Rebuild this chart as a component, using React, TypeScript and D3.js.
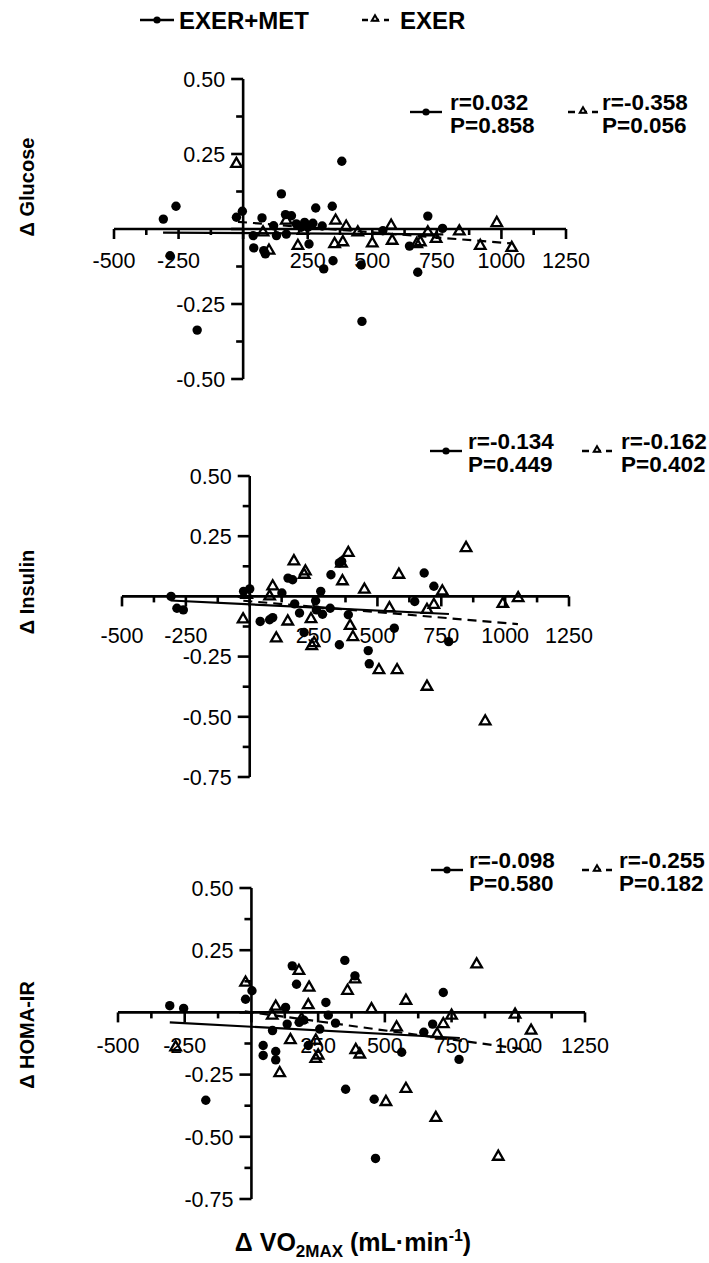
import React from 'react';
import * as d3 from 'd3';

// ---- data ----
const groupNames = ['EXER+MET', 'EXER'];

const glucoseMet: [number, number][] = [
  [-309, 0.033], [-260, 0.076], [-283, -0.089], [-178, -0.337], [-26, 0.039], [-3, 0.059],
  [39, -0.022], [41, -0.063], [73, 0.037], [80, -0.072], [86, -0.083], [118, 0.011],
  [129, -0.022], [148, 0.117], [164, 0.048], [187, 0.044], [167, -0.017], [206, 0.017],
  [225, 0.006], [238, 0.022], [251, 0.006], [255, -0.05], [270, 0.019], [281, 0.07],
  [306, 0.01], [312, -0.133], [345, 0.076], [348, -0.106], [382, 0.226], [457, -0.12],
  [460, -0.308], [541, -0.006], [644, -0.057], [676, -0.144], [715, 0.043], [772, 0.002],
];
const glucoseExer: [number, number][] = [
  [-26, 0.217], [77, -0.011], [100, -0.072], [167, 0.028], [212, -0.056], [232, -0.006],
  [358, 0.028], [354, -0.05], [386, -0.044], [399, 0.008], [444, -0.011], [500, -0.048],
  [573, 0.011], [577, -0.039], [672, -0.05], [686, -0.044], [715, -0.011], [747, -0.033],
  [837, -0.008], [918, -0.056], [982, 0.02], [1040, -0.063],
];
const glucoseFitMet: [number, number][] = [[-310, -0.012], [775, -0.018]];
const glucoseFitExer: [number, number][] = [[-20, 0.024], [1040, -0.048]];

const insulinMet: [number, number][] = [
  [-308, 0], [-285, -0.049], [-260, -0.056], [-24, 0.021], [0, 0.031], [41, -0.104],
  [78, -0.097], [90, -0.088], [126, 0.014], [150, 0.076], [168, 0.069], [176, -0.031],
  [195, -0.069], [213, -0.15], [258, -0.018], [261, -0.056], [278, 0.021], [285, -0.074],
  [315, -0.049], [318, 0.09], [351, -0.201], [351, 0.139], [360, 0.146], [386, -0.076],
  [464, -0.225], [468, -0.28], [566, -0.132], [646, -0.021], [683, 0.097], [721, 0.042],
  [779, -0.188],
];
const insulinExer: [number, number][] = [
  [-26, -0.095], [-12, 0.007], [78, 0], [90, 0.042], [104, -0.174], [149, -0.104],
  [173, 0.146], [213, 0.09], [218, 0.104], [240, -0.094], [243, -0.206], [252, -0.194],
  [359, 0.136], [363, 0.063], [386, 0.181], [393, -0.122], [404, -0.169], [449, 0.028],
  [506, -0.306], [547, -0.049], [577, -0.306], [584, 0.09], [694, -0.375], [694, -0.056],
  [721, -0.035], [754, 0.021], [847, 0.201], [922, -0.519], [991, -0.031], [1051, -0.007],
];
const insulinFitMet: [number, number][] = [[-310, -0.017], [780, -0.073]];
const insulinFitExer: [number, number][] = [[-25, -0.018], [1050, -0.115]];

const homaMet: [number, number][] = [
  [-306, 0.027], [-254, 0.016], [-171, -0.353], [-22, 0.053], [2, 0.087], [44, -0.133],
  [44, -0.173], [79, -0.073], [91, -0.157], [91, -0.191], [128, 0.02], [134, -0.047],
  [153, 0.187], [169, 0.113], [179, -0.04], [196, -0.031], [213, -0.133], [256, -0.067],
  [279, 0.04], [288, -0.011], [315, -0.043], [350, 0.209], [353, -0.309], [388, 0.147],
  [460, -0.349], [465, -0.587], [563, -0.16], [646, -0.08], [679, -0.047], [719, 0.08],
  [778, -0.189],
];
const homaExer: [number, number][] = [
  [-284, -0.14], [-22, 0.12], [78, -0.013], [91, 0.023], [106, -0.244], [146, -0.111],
  [178, 0.167], [188, -0.027], [213, 0.029], [216, 0.1], [241, -0.113], [241, -0.187],
  [250, -0.173], [360, 0.087], [388, 0.133], [391, -0.151], [406, -0.169], [450, 0.013],
  [504, -0.36], [544, -0.06], [579, 0.047], [579, -0.307], [691, -0.424], [696, -0.087],
  [719, -0.047], [750, -0.013], [844, 0.193], [925, -0.58], [988, -0.009], [1048, -0.073],
];
const homaFitMet: [number, number][] = [[-306, -0.04], [781, -0.103]];
const homaFitExer: [number, number][] = [[-25, 0.004], [1048, -0.152]];

const xTicks = [-500, -250, 0, 250, 500, 750, 1000, 1250];
const yTicksShort = [-0.5, -0.25, 0, 0.25, 0.5];
const yTicksLong = [-0.75, -0.5, -0.25, 0, 0.25, 0.5];

const panels = [
  { title: 'Δ Glucose', met: glucoseMet, exer: glucoseExer, fitMet: glucoseFitMet, fitExer: glucoseFitExer,
    statMet: ['r=0.032', 'P=0.858'], statExer: ['r=-0.358', 'P=0.056'], yTicks: yTicksShort },
  { title: 'Δ Insulin', met: insulinMet, exer: insulinExer, fitMet: insulinFitMet, fitExer: insulinFitExer,
    statMet: ['r=-0.134', 'P=0.449'], statExer: ['r=-0.162', 'P=0.402'], yTicks: yTicksLong },
  { title: 'Δ HOMA-IR', met: homaMet, exer: homaExer, fitMet: homaFitMet, fitExer: homaFitExer,
    statMet: ['r=-0.098', 'P=0.580'], statExer: ['r=-0.255', 'P=0.182'], yTicks: yTicksLong },
];

// ---- layout (pixels) ----
const frames = [
  { left: 114, right: 566, top: 79, bottom: 379, labelDy: 39, statY: 102, m1: 410, t1: 450, m2: 568, t2: 602, titleY: 187 },
  { left: 122, right: 569, top: 476, bottom: 777, labelDy: 47, statY: 441, m1: 430, t1: 468, m2: 582, t2: 621, titleY: 592 },
  { left: 118, right: 585, top: 888, bottom: 1199, labelDy: 41, statY: 860, m1: 431, t1: 469, m2: 582, t2: 619, titleY: 1035 },
];

const FONT = '"Liberation Sans", Arial, Helvetica, sans-serif';
const fmtY = (v: number) => (v < 0 ? '-' : '') + Math.abs(v).toFixed(2);

const tri = d3.symbol().type(d3.symbolTriangle).size(48);
const triSmall = d3.symbol().type(d3.symbolTriangle).size(18);

const Panel = ({ p, f }: { p: typeof panels[number]; f: typeof frames[number] }) => {
  const x = d3.scaleLinear().domain([-500, 1250]).range([f.left, f.right]);
  const yMin = d3.min(p.yTicks) as number;
  const y = d3.scaleLinear().domain([yMin, 0.5]).range([f.bottom, f.top]);
  const line = d3.line<[number, number]>().x(d => x(d[0])).y(d => y(d[1]));
  const x0 = x(0);
  const y0 = y(0);
  const minorX = d3.range(-500, 1250, 125).filter(v => v % 250 !== 0);
  const minorY = d3.range(yMin, 0.5, 0.125).filter(v => Math.abs((v / 0.25) % 1) > 0.01);
  return (
    <g>
      {/* y axis */}
      <line x1={x0} x2={x0} y1={y(0.5)} y2={y(yMin)} stroke="#000" strokeWidth={2.6} />
      {p.yTicks.map(t => (
        <line key={'yt' + t} x1={x0 - 12} x2={x0} y1={y(t)} y2={y(t)} stroke="#000" strokeWidth={2.6} />
      ))}
      {minorY.map(t => (
        <line key={'ym' + t} x1={x0 - 7} x2={x0} y1={y(t)} y2={y(t)} stroke="#000" strokeWidth={2.6} />
      ))}
      {p.yTicks.filter(t => t !== 0).map(t => (
        <text key={'yl' + t} x={x0 - 18} y={y(t)} dy="0.36em" textAnchor="end" fontFamily={FONT} fontSize={21.5}>
          {fmtY(t)}
        </text>
      ))}
      {/* x axis */}
      <line x1={x(-500)} x2={x(1250)} y1={y0} y2={y0} stroke="#000" strokeWidth={2.6} />
      {xTicks.map(t => (
        <line key={'xt' + t} x1={x(t)} x2={x(t)} y1={y0} y2={y0 + 10} stroke="#000" strokeWidth={2.6} />
      ))}
      {minorX.map(t => (
        <line key={'xm' + t} x1={x(t)} x2={x(t)} y1={y0} y2={y0 + 6} stroke="#000" strokeWidth={2.6} />
      ))}
      {xTicks.filter(t => t !== 0).map(t => (
        <text key={'xl' + t} x={x(t)} y={y0 + f.labelDy} textAnchor="middle" fontFamily={FONT} fontSize={21.5}>
          {String(t)}
        </text>
      ))}
      {/* fits */}
      <path d={line(p.fitMet) || ''} stroke="#000" strokeWidth={2.2} fill="none" />
      <path d={line(p.fitExer) || ''} stroke="#000" strokeWidth={2.2} fill="none" strokeDasharray="9,6" />
      {/* points */}
      {p.exer.map((d, i) => (
        <path key={'e' + i} d={tri() || ''} transform={`translate(${x(d[0])},${y(d[1])})`}
          fill="none" stroke="#000" strokeWidth={2.3} />
      ))}
      {p.met.map((d, i) => (
        <circle key={'m' + i} cx={x(d[0])} cy={y(d[1])} r={4.7} fill="#000" />
      ))}
      {/* stats */}
      <line x1={f.m1} x2={f.m1 + 32} y1={f.statY + 10} y2={f.statY + 10} stroke="#000" strokeWidth={2.4} />
      <circle cx={f.m1 + 16} cy={f.statY + 10} r={3.6} fill="#000" />
      <text x={f.t1} y={f.statY + 8} fontFamily={FONT} fontSize={22.5} fontWeight="bold">{p.statMet[0]}</text>
      <text x={f.t1} y={f.statY + 31} fontFamily={FONT} fontSize={22.5} fontWeight="bold">{p.statMet[1]}</text>
      <line x1={f.m2} x2={f.m2 + 30} y1={f.statY + 10} y2={f.statY + 10} stroke="#000" strokeWidth={2.4} strokeDasharray="7,5" />
      <path d={triSmall() || ''} transform={`translate(${f.m2 + 15},${f.statY + 9})`} fill="#fff" stroke="#000" strokeWidth={2} />
      <text x={f.t2} y={f.statY + 8} fontFamily={FONT} fontSize={22.5} fontWeight="bold">{p.statExer[0]}</text>
      <text x={f.t2} y={f.statY + 31} fontFamily={FONT} fontSize={22.5} fontWeight="bold">{p.statExer[1]}</text>
      {/* y title */}
      <text transform={`translate(27,${f.titleY}) rotate(-90)`} textAnchor="middle" dy="0.35em"
        fontFamily={FONT} fontSize={20} fontWeight="bold">{p.title}</text>
    </g>
  );
};

export default function App() {
  return (
    <svg width={709} height={1263} style={{ position: 'absolute', left: 0, top: 0, background: '#fff' }}>
      <rect width={709} height={1263} fill="#fff" />
      {/* legend */}
      <g>
        <line x1={140} x2={174} y1={20} y2={20} stroke="#000" strokeWidth={2.4} />
        <circle cx={157} cy={20} r={3.6} fill="#000" />
        <text x={179} y={29} fontFamily={FONT} fontSize={24} fontWeight="bold">{groupNames[0]}</text>
        <line x1={362} x2={389} y1={20} y2={20} stroke="#000" strokeWidth={2.4} strokeDasharray="6,5" />
        <path d={triSmall() || ''} transform={`translate(375,19)`} fill="#fff" stroke="#000" strokeWidth={2} />
        <text x={400} y={29} fontFamily={FONT} fontSize={24} fontWeight="bold">{groupNames[1]}</text>
      </g>
      {panels.map((p, i) => (
        <Panel key={i} p={p} f={frames[i]} />
      ))}
      {/* x title */}
      <text x={353} y={1251} textAnchor="middle" fontFamily={FONT} fontSize={25} fontWeight="bold">
        Δ VO<tspan fontSize={17} dy={6}>2MAX</tspan><tspan dy={-6}> (mL·min</tspan>
        <tspan fontSize={16} dy={-10}>-1</tspan><tspan dy={10}>)</tspan>
      </text>
    </svg>
  );
}
